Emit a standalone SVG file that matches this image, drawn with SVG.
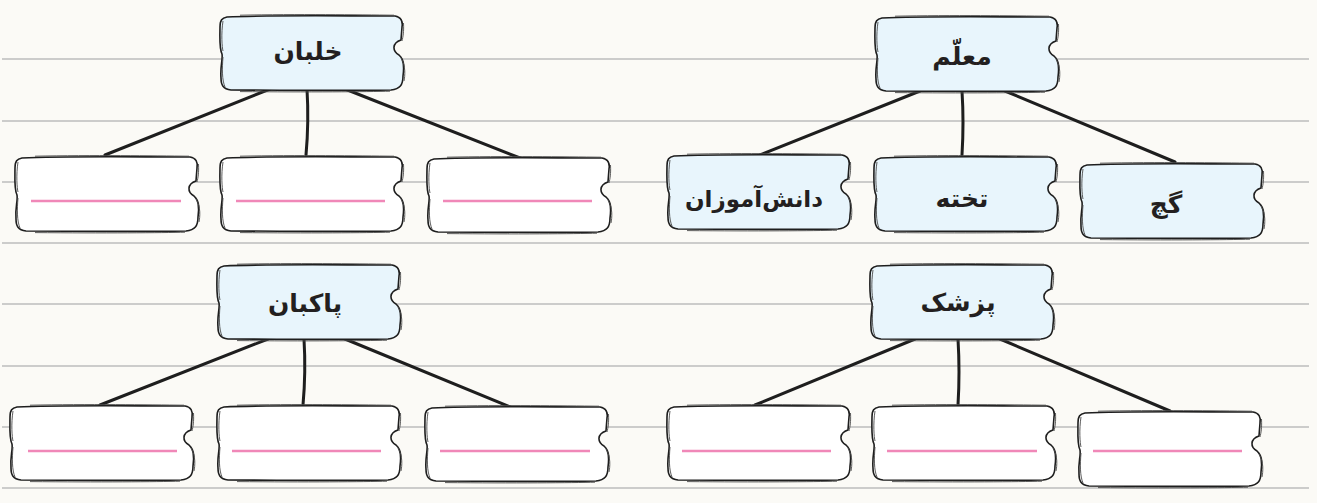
<svg xmlns="http://www.w3.org/2000/svg" xmlns:xlink="http://www.w3.org/1999/xlink" width="1317" height="503" viewBox="0 0 1317 503">
<style>
.rule{stroke:#bdbdbd;stroke-width:1.4;fill:none}
.conn{stroke:#1e1e1e;stroke-width:3;fill:none;stroke-linecap:round}
.pink{stroke:#f088b8;stroke-width:2.6}
.lbl{font-family:"DejaVu Sans","Noto Sans",sans-serif;font-weight:bold;font-size:25px;fill:#231f20;text-anchor:middle}
.sm{font-size:23px}
</style>
<defs>
<g id="box">
<path d="M 9,3 C 50,1 120,2 177,2 C 183,3 185,7 184,13 L 183,26 C 174,29 174,37 181,41 C 187,46 186,55 185,62 C 185,71 182,75 173,76 C 120,77 60,76 13,76 C 5,75 3,71 3,64 C 2,52 5,46 4,40 C 1,34 2,20 2,13 C 2,6 4,4 9,3 Z" stroke="#1e1e1e" stroke-width="1.6"/>
<path d="M 5,7 C 3,20 4,33 5,37 M 5,43 C 4,55 4,66 7,73 M 22,1.2 C 80,0 140,0.8 176,1.2 M 185.5,9 C 186,18 185,23 184,27 M 183,44 C 188,52 187,62 186,67 M 22,77.6 C 90,78.2 150,77.8 172,77.2" fill="none" stroke="#4a4a4a" stroke-width="0.9"/>
</g>
</defs>
<rect x="0" y="0" width="1317" height="503" fill="#fbfaf6"/>
<g id="rules">
<line class="rule" x1="2" y1="59" x2="1309" y2="59"/>
<line class="rule" x1="2" y1="121" x2="1309" y2="121"/>
<line class="rule" x1="2" y1="182" x2="1309" y2="182"/>
<line class="rule" x1="2" y1="243" x2="1309" y2="243"/>
<line class="rule" x1="2" y1="304" x2="1309" y2="304"/>
<line class="rule" x1="2" y1="366" x2="1309" y2="366"/>
<line class="rule" x1="2" y1="427" x2="1309" y2="427"/>
<line class="rule" x1="2" y1="488" x2="1309" y2="488"/>
</g>
<g id="connectors">
<path class="conn" d="M 270,89 L 105,155"/>
<path class="conn" d="M 307,89 Q 309,122 306,155"/>
<path class="conn" d="M 345,89 L 520,158"/>
<path class="conn" d="M 920,91 L 760,155"/>
<path class="conn" d="M 962,91 Q 964,122 962,155"/>
<path class="conn" d="M 1005,91 L 1175,162"/>
<path class="conn" d="M 268,339 L 100,405"/>
<path class="conn" d="M 304,339 Q 306,372 303,405"/>
<path class="conn" d="M 345,339 L 515,409"/>
<path class="conn" d="M 915,339 L 755,405"/>
<path class="conn" d="M 958,339 Q 960,372 958,405"/>
<path class="conn" d="M 1000,339 L 1170,411"/>
</g>
<g id="n-khalaban"><use xlink:href="#box" href="#box" fill="#e8f5fc" transform="translate(218,14)"/><text class="lbl" x="308" y="60">خلبان</text></g>
<g id="n-moallem"><use xlink:href="#box" href="#box" fill="#e8f5fc" transform="translate(873,15)"/><text class="lbl" x="962" y="65">معلّم</text></g>
<g id="n-pakban"><use xlink:href="#box" href="#box" fill="#e8f5fc" transform="translate(215,263)"/><text class="lbl" x="305" y="312">پاکبان</text></g>
<g id="n-pezeshk"><use xlink:href="#box" href="#box" fill="#e8f5fc" transform="translate(868,263)"/><text class="lbl" x="958" y="311">پزشک</text></g>
<g id="c1"><use xlink:href="#box" href="#box" fill="#ffffff" transform="translate(13,155)"/><line class="pink" x1="31" y1="201" x2="181" y2="201"/></g>
<g id="c2"><use xlink:href="#box" href="#box" fill="#ffffff" transform="translate(218,155)"/><line class="pink" x1="236" y1="201" x2="385" y2="201"/></g>
<g id="c3"><use xlink:href="#box" href="#box" fill="#ffffff" transform="translate(425,156)"/><line class="pink" x1="443" y1="201" x2="592" y2="201"/></g>
<g id="c-daneshamooz"><use xlink:href="#box" href="#box" fill="#e8f5fc" transform="translate(665,153)"/><text class="lbl sm" x="754" y="207">دانش&#x200C;آموزان</text></g>
<g id="c-takhte"><use xlink:href="#box" href="#box" fill="#e8f5fc" transform="translate(872,155)"/><text class="lbl" x="962" y="207">تخته</text></g>
<g id="c-gach"><use xlink:href="#box" href="#box" fill="#e8f5fc" transform="translate(1078,162)"/><text class="lbl" x="1166" y="213">گچ</text></g>
<g id="d1"><use xlink:href="#box" href="#box" fill="#ffffff" transform="translate(8,404)"/><line class="pink" x1="28" y1="451" x2="177" y2="451"/></g>
<g id="d2"><use xlink:href="#box" href="#box" fill="#ffffff" transform="translate(215,404)"/><line class="pink" x1="232" y1="451" x2="381" y2="451"/></g>
<g id="d3"><use xlink:href="#box" href="#box" fill="#ffffff" transform="translate(423,405)"/><line class="pink" x1="440" y1="451" x2="590" y2="451"/></g>
<g id="d4"><use xlink:href="#box" href="#box" fill="#ffffff" transform="translate(665,404)"/><line class="pink" x1="682" y1="451" x2="831" y2="451"/></g>
<g id="d5"><use xlink:href="#box" href="#box" fill="#ffffff" transform="translate(870,404)"/><line class="pink" x1="887" y1="451" x2="1037" y2="451"/></g>
<g id="d6"><use xlink:href="#box" href="#box" fill="#ffffff" transform="translate(1076,410)"/><line class="pink" x1="1093" y1="451" x2="1242" y2="451"/></g>
</svg>
